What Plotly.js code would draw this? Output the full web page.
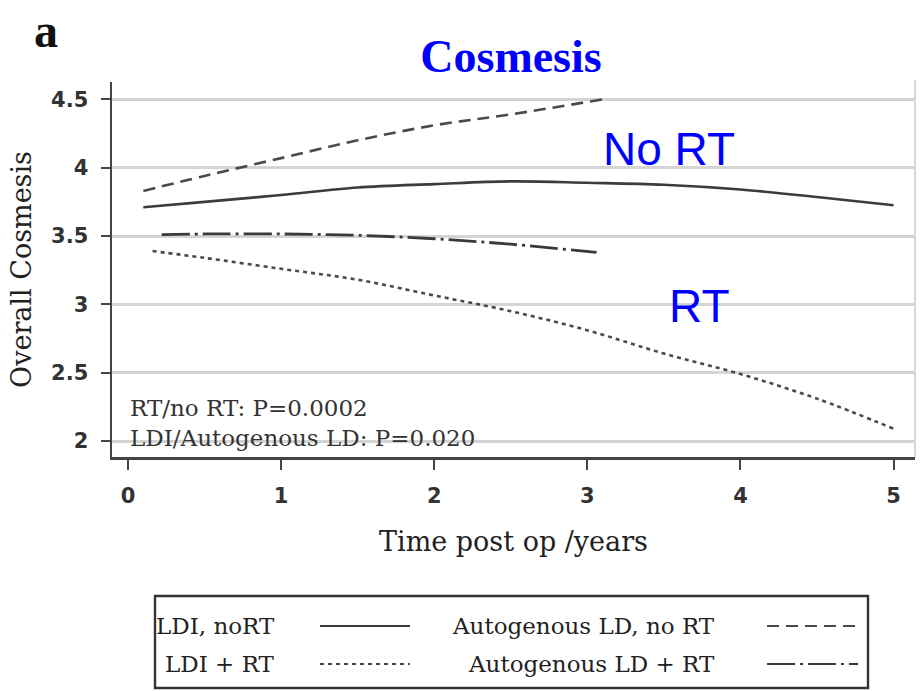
<!DOCTYPE html>
<html>
<head>
<meta charset="utf-8">
<script src="https://cdn.plot.ly/plotly-3.0.1.min.js"></script>
<style>
  html, body { margin: 0; padding: 0; background: #fff; }
  #chart { width: 923px; height: 691px; }
</style>
</head>
<body>
<div id="chart"></div>
<script>
// ---- data ----
const seriesNames = ['LDI, noRT', 'Autogenous LD, no RT', 'LDI + RT', 'Autogenous LD + RT'];

const xLdiNoRt = [0.1, 0.5, 1, 1.5, 2, 2.5, 3, 3.5, 4, 4.5, 5];
const yLdiNoRt = [3.71, 3.75, 3.80, 3.855, 3.88, 3.90, 3.89, 3.875, 3.84, 3.785, 3.725];

const xAutoNoRt = [0.1, 0.5, 1, 1.5, 2, 2.5, 3.1];
const yAutoNoRt = [3.83, 3.94, 4.07, 4.20, 4.31, 4.39, 4.50];

const xLdiRt = [0.16, 0.5, 1, 1.5, 2, 2.5, 3, 3.5, 4, 4.5, 5];
const yLdiRt = [3.39, 3.34, 3.26, 3.18, 3.065, 2.95, 2.81, 2.64, 2.49, 2.31, 2.09];

const xAutoRt = [0.22, 0.5, 1, 1.5, 2, 2.5, 3.06];
const yAutoRt = [3.51, 3.515, 3.515, 3.505, 3.48, 3.44, 3.38];

const xTickVals = [0, 1, 2, 3, 4, 5];
const yTickVals = [2, 2.5, 3, 3.5, 4, 4.5];
const yTickText = ['2', '2.5', '3', '3.5', '4', '4.5'];

const pLabels = ['RT/no RT: P=0.0002', 'LDI/Autogenous LD: P=0.020'];
const groupLabels = ['No RT', 'RT'];

// ---- styles ----
const styles = [
  { color: '#3c3c3c', dash: 'solid', width: 2.6 },
  { color: '#4a4a4a', dash: '12px,7px', width: 2.6 },
  { color: '#4a4a4a', dash: '4px,4px', width: 2.6 },
  { color: '#3a3a3a', dash: '28px,5px,3px,5px', width: 2.8 }
];
const xs = [xLdiNoRt, xAutoNoRt, xLdiRt, xAutoRt];
const ys = [yLdiNoRt, yAutoNoRt, yLdiRt, yAutoRt];

const traces = seriesNames.map((name, i) => ({
  type: 'scatter', mode: 'lines', name: name,
  x: xs[i], y: ys[i],
  line: { color: styles[i].color, dash: styles[i].dash, width: styles[i].width, shape: 'spline', smoothing: 1 },
  showlegend: false, hoverinfo: 'skip'
}));

// plot area in pixels
const W = 923, H = 691;
const mL = 112, mR = 8, mT = 82, mB = 234;
const pw = W - mL - mR, ph = H - mT - mB;
const px = v => (v - mL) / pw;           // pixel x -> paper x
const py = v => (H - mB - v) / ph;       // pixel y -> paper y

const serif = 'DejaVu Serif, Liberation Serif, serif';

// custom legend (text left, sample right)
const legendRows = [626, 664];
const legendTextRight = [277, 717];
const legendSample = [[320, 410], [767, 858]];
const shapes = [
  { type: 'line', xref: 'paper', yref: 'paper', x0: 1, x1: 1, y0: 0, y1: py(80),
    line: { color: '#d8d8d8', width: 2 } },
  { type: 'rect', xref: 'paper', yref: 'paper', x0: px(155), x1: px(868), y0: py(596), y1: py(688),
    line: { color: '#333', width: 2.4 }, fillcolor: 'rgba(0,0,0,0)' }
];
const annotations = [];
seriesNames.forEach((name, i) => {
  const col = i % 2, row = Math.floor(i / 2);
  shapes.push({ type: 'line', xref: 'paper', yref: 'paper',
    x0: px(legendSample[col][0]), x1: px(legendSample[col][1]),
    y0: py(legendRows[row]), y1: py(legendRows[row]),
    line: { color: styles[i].color, dash: styles[i].dash, width: i === 2 ? 2 : 2.2 } });
  annotations.push({ xref: 'paper', yref: 'paper', x: px(legendTextRight[col]), y: py(legendRows[row]),
    xanchor: 'right', yanchor: 'middle', showarrow: false, text: name,
    font: { family: serif, size: 23, color: '#222' } });
});

// p-value labels
annotations.push({ xref: 'x', yref: 'y', x: 0, y: 2.245, xanchor: 'left', yanchor: 'middle', showarrow: false,
  text: pLabels[0], font: { family: serif, size: 23, color: '#333' } });
annotations.push({ xref: 'x', yref: 'y', x: 0, y: 2.025, xanchor: 'left', yanchor: 'middle', showarrow: false,
  text: pLabels[1], font: { family: serif, size: 23, color: '#333' } });

// group labels
annotations.push({ xref: 'x', yref: 'y', x: 3.09, y: 4.14, xanchor: 'left', yanchor: 'middle', showarrow: false,
  text: groupLabels[0], font: { family: 'Liberation Sans, Arial, sans-serif', size: 46, color: '#0000ff' } });
annotations.push({ xref: 'x', yref: 'y', x: 3.52, y: 2.985, xanchor: 'left', yanchor: 'middle', showarrow: false,
  text: groupLabels[1], font: { family: 'Liberation Sans, Arial, sans-serif', size: 46, color: '#0000ff' } });

// panel letter
annotations.push({ xref: 'paper', yref: 'paper', x: px(46), y: py(2), xanchor: 'center', yanchor: 'top',
  showarrow: false, text: '<b>a</b>', font: { family: 'Liberation Serif, serif', size: 48, color: '#111' } });

const tickFont = { family: 'DejaVu Sans, sans-serif', size: 21, color: '#333', weight: 'bold' };

const layout = {
  width: W, height: H,
  margin: { l: mL, r: mR, t: mT, b: mB, pad: 0 },
  paper_bgcolor: '#fff', plot_bgcolor: '#fff',
  showlegend: false,
  title: {
    text: '<b>Cosmesis</b>',
    font: { family: 'Liberation Serif, serif', size: 46, color: '#0000ff' },
    xref: 'container', yref: 'container', x: 511 / W, y: 1 - 56 / H, xanchor: 'center', yanchor: 'middle'
  },
  xaxis: {
    range: [-0.1045, 5.14], tickvals: xTickVals, ticktext: xTickVals.map(String),
    showgrid: false, zeroline: false,
    showline: true, linecolor: '#444', linewidth: 3,
    ticks: 'outside', ticklen: 10, tickwidth: 2, tickcolor: '#444',
    tickfont: tickFont, ticklabelstandoff: 8,
    title: { text: 'Time post op /years', font: { family: serif, size: 27, color: '#222' }, standoff: 25 }
  },
  yaxis: {
    range: [1.883, 4.627], tickvals: yTickVals, ticktext: yTickText,
    showgrid: true, gridcolor: '#d4d4d4', gridwidth: 3, zeroline: false,
    showline: true, linecolor: '#444', linewidth: 2.5,
    ticks: 'outside', ticklen: 9, tickwidth: 2, tickcolor: '#444',
    tickfont: tickFont, ticklabelstandoff: 8,
    title: { text: 'Overall Cosmesis', font: { family: serif, size: 27, color: '#222' }, standoff: 12 }
  },
  shapes: shapes,
  annotations: annotations
};

Plotly.newPlot('chart', traces, layout, { staticPlot: true, displayModeBar: false });
</script>
</body>
</html>
